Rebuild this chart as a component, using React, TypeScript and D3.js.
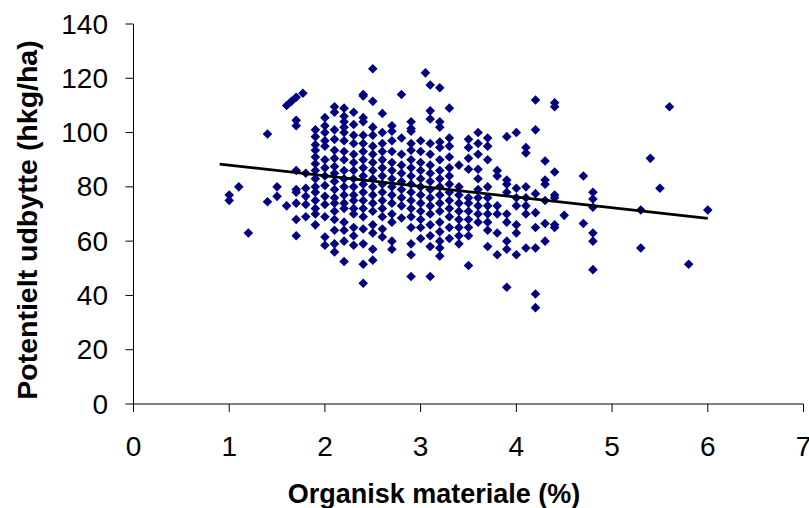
import React from "react";
import * as d3 from "d3";

// Organic matter levels (%) — x positions of the point columns
const organicLevels: number[] = [
  1.0, 1.1, 1.2, 1.4, 1.5, 1.6, 1.65, 1.7, 1.77, 1.8, 1.9, 2.0, 2.1, 2.2, 2.3, 2.4, 2.5, 2.6, 2.7, 2.8, 2.9,
  3.0, 3.05, 3.1, 3.2, 3.3, 3.4, 3.5, 3.6, 3.7, 3.8, 3.9, 4.0, 4.1, 4.2, 4.3, 4.4, 4.5, 4.7, 4.8,
  5.3, 5.4, 5.5, 5.6, 5.8, 6.0,
];

// Potential yield (hkg/ha) observed at each organic matter level
const yieldsAtLevel: number[][] = [
  [75, 77],
  [80],
  [63],
  [99.5, 74.5],
  [80, 76.5],
  [110, 73],
  [111.5],
  [113, 104.5, 102.5, 86, 79, 78, 74, 68, 62],
  [114.5],
  [85, 79.5, 76.5, 73.5, 69],
  [101, 98.5, 95.5, 93.5, 91, 88.5, 86, 83, 80, 78, 75, 72, 70, 66],
  [105.5, 102.5, 100, 97, 95, 90, 87, 84, 80.5, 76.5, 73.5, 69, 61.5, 58.5],
  [109.5, 107.5, 101, 97.5, 93.5, 90.5, 87.5, 85, 82, 79, 76, 74, 71, 68, 64, 59, 56],
  [109, 106, 104, 102, 100, 97, 93, 90, 86, 83, 80, 77, 74, 72, 67, 64, 60, 52.5],
  [107.5, 103, 99, 96, 92, 89, 86, 83, 80, 77, 75, 72, 70, 65, 62, 58.5],
  [114, 113.5, 105.5, 104, 99, 96, 93, 90, 87, 84, 81, 78, 75, 72, 69, 64.5, 59, 51.5, 44.5],
  [123.5, 111.5, 102, 99, 95, 92, 89, 86, 83, 80, 77, 74, 71, 66, 63, 57, 53],
  [107, 100, 96, 93, 90, 87, 84, 81, 78, 75, 72, 69, 64.5, 61.5],
  [102.5, 100.5, 97, 93, 89, 86, 83, 80, 77, 74, 70, 67, 60, 57],
  [114, 98, 92, 88, 85, 82, 79, 76, 73, 68.5],
  [104, 101.5, 100.5, 96, 93.5, 90, 87, 84, 81, 78, 75, 72, 69, 65, 59, 55, 47],
  [97, 93, 89, 86, 83, 80, 77, 74, 71, 68, 65, 61],
  [122],
  [117.5, 108, 105, 96, 92, 88, 85, 82, 79, 76, 73, 70, 66, 62, 58, 47],
  [116.5, 104, 102, 96.5, 94.5, 90, 86, 83, 80, 77, 74, 71, 67, 63.5, 60, 57.5, 54.5],
  [109, 98, 95, 91, 87, 84, 81, 78, 75, 72, 69, 65, 61],
  [88, 80, 77, 74, 71, 68, 65, 62, 59],
  [97.5, 94.5, 90.5, 86.5, 76, 74, 71, 68, 65, 62, 51],
  [100, 96, 92, 86.5, 83, 79, 76, 73, 70, 67],
  [98, 95, 90, 80, 76, 73, 70, 67, 64, 58],
  [86, 84, 73, 70, 63, 55],
  [98.5, 82.5, 81, 78, 70, 67, 60, 57, 43],
  [100, 79.5, 76, 73, 66, 63, 55],
  [94.5, 92.5, 80, 76, 73, 70, 57.5],
  [112, 101, 77.5, 70.5, 65, 57.5, 40.5, 35.5],
  [89.5, 82.5, 81, 75, 66.5, 60],
  [111, 109.5, 85.5, 77, 76, 66, 65],
  [69.5],
  [84, 66.5],
  [78, 75.5, 72.5, 63, 60, 49.5],
  [71.5, 57.5],
  [90.5],
  [79.5],
  [109.5],
  [51.5],
  [71.5],
];

// Linear trend line end points
const trendX: number[] = [0.9, 6.0];
const trendY: number[] = [88.4, 68.4];

// Axis ticks
const xTicks: number[] = [0, 1, 2, 3, 4, 5, 6, 7];
const yTicks: number[] = [0, 20, 40, 60, 80, 100, 120, 140];

const xTitle = "Organisk materiale (%)";
const yTitle = "Potentielt udbytte (hkg/ha)";

export default function App() {
  const W = 809;
  const H = 508;
  const x = d3.scaleLinear().domain([0, 7]).range([133.5, 803.5]);
  const y = d3.scaleLinear().domain([0, 140]).range([404, 24]);

  const points: { ox: number; oy: number }[] = [];
  organicLevels.forEach((lv, i) => {
    yieldsAtLevel[i].forEach((v) => points.push({ ox: lv, oy: v }));
  });

  const diamond = d3.symbol().type(d3.symbolSquare).size(46)() as string;
  const line = d3
    .line<number>()
    .x((_, i) => x(trendX[i]))
    .y((d) => y(d));

  const font = "'Liberation Sans', Arial, sans-serif";
  const axisColor = "#000";

  return (
    <svg
      width={W}
      height={H}
      style={{ position: "absolute", left: 0, top: 0, background: "#fff" }}
      fontFamily={font}
    >
      <rect x={0} y={0} width={W} height={H} fill="#fff" />
      {/* points */}
      <g fill="#000080">
        {points.map((p, i) => (
          <path
            key={i}
            d={diamond}
            transform={`translate(${x(p.ox)},${y(p.oy)}) rotate(45)`}
          />
        ))}
      </g>
      {/* trend line */}
      <path d={line(trendY) as string} stroke="#000" strokeWidth={2.8} fill="none" />

      {/* y axis */}
      <line x1={x(0)} x2={x(0)} y1={y(0)} y2={y(140)} stroke={axisColor} strokeWidth={1} />
      {yTicks.map((t) => (
        <g key={t}>
          <line x1={x(0) - 8} x2={x(0)} y1={y(t)} y2={y(t)} stroke={axisColor} strokeWidth={1} />
          <text
            x={108}
            y={y(t)}
            textAnchor="end"
            dominantBaseline="central"
            fontSize={28}
            fill="#000"
          >
            {t}
          </text>
        </g>
      ))}

      {/* x axis */}
      <line x1={x(0)} x2={x(7)} y1={y(0)} y2={y(0)} stroke={axisColor} strokeWidth={1} />
      {xTicks.map((t) => (
        <g key={t}>
          <line x1={x(t)} x2={x(t)} y1={y(0)} y2={y(0) + 8} stroke={axisColor} strokeWidth={1} />
          <text x={x(t)} y={456} textAnchor="middle" fontSize={28} fill="#000">
            {t}
          </text>
        </g>
      ))}

      {/* titles */}
      <text x={434} y={503} textAnchor="middle" fontSize={27} fontWeight="bold" fill="#000">
        {xTitle}
      </text>
      <text
        transform={`translate(37,220) rotate(-90)`}
        textAnchor="middle"
        fontSize={28.5}
        fontWeight="bold"
        fill="#000"
      >
        {yTitle}
      </text>
    </svg>
  );
}
